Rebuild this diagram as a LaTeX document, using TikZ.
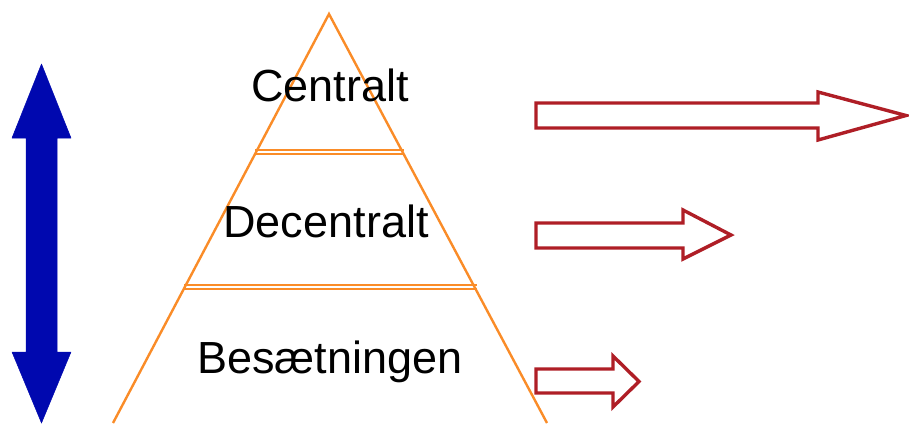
\documentclass[tikz,border=0pt]{standalone}
\usepackage{fontspec}
\setmainfont{Liberation Sans}
\definecolor{pyrorange}{RGB}{250,140,40}
\definecolor{arrowblue}{RGB}{0,8,175}
\definecolor{arrowred}{RGB}{175,30,38}
\begin{document}
\begin{tikzpicture}[x=1pt,y=-1pt,
  pyrline/.style={draw=pyrorange,line width=2.4pt},
  sepline/.style={draw=pyrorange,line width=1.8pt},
  levellabel/.style={font=\fontsize{45}{50}\selectfont,anchor=base,inner sep=0pt},
  outarrow/.style={draw=arrowred,line width=3.4pt,fill=white,line join=miter},
  bigarrow/.style={fill=arrowblue,draw=arrowblue,line width=0.5pt,line join=round}]
\useasboundingbox (0,0) rectangle (909,423);
\clip (0,0) rectangle (909,423);
% pyramid
\coordinate (apex) at (329,14);
\coordinate (bl) at (113,423);
\coordinate (br) at (547,423);
\draw[pyrline,line join=miter] (bl) -- (apex) -- (br);
\draw[sepline] (255,150.3) -- (404,150.3);
\draw[sepline] (255,153.7) -- (404,153.7);
\draw[sepline] (184,285.3) -- (477,285.3);
\draw[sepline] (184,288.7) -- (477,288.7);
% labels
\node[levellabel] (central) at (330,101) {Centralt};
\node[levellabel] (decentral) at (326,237) {Decentralt};
\node[levellabel] (crew) at (330,373) {Besætningen};
% blue double arrow
\draw[bigarrow] (41.5,64) -- (71,138) -- (57,138) -- (57,352) -- (71,352) -- (41.5,423)
  -- (12,352) -- (26,352) -- (26,138) -- (12,138) -- cycle;
% red arrows
\draw[outarrow] (536,103) -- (818,103) -- (818,92) -- (906,115.5) -- (818,140) -- (818,128) -- (536,128) -- cycle;
\draw[outarrow] (536,223) -- (683,223) -- (683,210) -- (731,235) -- (683,259) -- (683,248) -- (536,248) -- cycle;
\draw[outarrow] (536,369) -- (613,369) -- (613,356) -- (639,381.5) -- (613,407) -- (613,393) -- (536,393) -- cycle;
\end{tikzpicture}
\end{document}
